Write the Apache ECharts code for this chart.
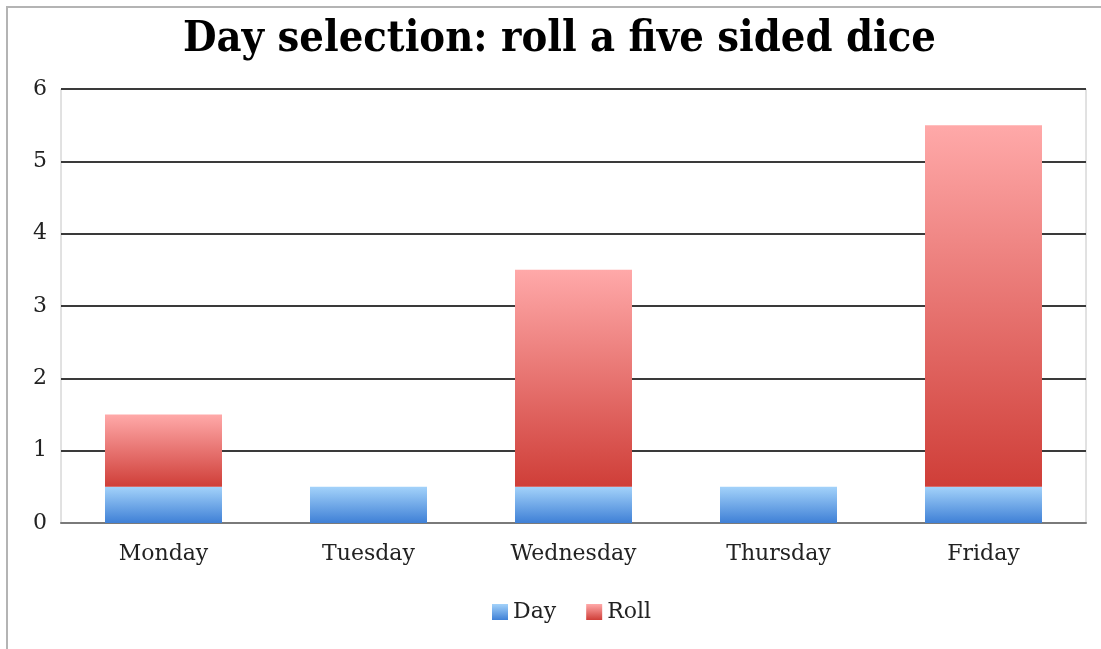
<!DOCTYPE html>
<html>
<head>
<meta charset="utf-8">
<script src="https://cdn.jsdelivr.net/npm/echarts@6/dist/echarts.min.js"></script>
<style>
html,body{margin:0;padding:0;background:#fff;}
#c{width:1101px;height:649px;}
</style>
</head>
<body>
<div id="c"></div>
<script>
const categories = ['Monday', 'Tuesday', 'Wednesday', 'Thursday', 'Friday'];
const dayValues = [0.5, 0.5, 0.5, 0.5, 0.5];
const rollValues = [1, 0, 3, 0, 5];
const yTicks = [0, 1, 2, 3, 4, 5, 6];

const chart = echarts.init(document.getElementById('c'));
const serif = '"DejaVu Serif", serif';
const blue = new echarts.graphic.LinearGradient(0, 0, 0, 1, [
  {offset: 0, color: '#a3d2fa'},
  {offset: 1, color: '#3f80d6'}
]);
const red = new echarts.graphic.LinearGradient(0, 0, 0, 1, [
  {offset: 0, color: '#ffa9a9'},
  {offset: 1, color: '#cf3e38'}
]);
chart.setOption({
  animation: false,
  title: {
    text: 'Day selection: roll a five sided dice',
    left: 178,
    top: 13,
    textStyle: {fontFamily: '"DejaVu Serif Condensed", "DejaVu Serif", serif', fontWeight: 'bold', fontSize: 43, color: '#000'}
  },
  graphic: [{
    type: 'rect',
    shape: {x: 7, y: 7, width: 1200, height: 700},
    style: {fill: null, stroke: '#b4b4b4', lineWidth: 2},
    silent: true
  }],
  legend: {
    bottom: 21,
    left: 487,
    itemWidth: 16,
    itemHeight: 16,
    itemGap: 30,
    icon: 'rect',
    textStyle: {fontFamily: serif, fontSize: 22, color: '#222'},
    data: ['Day', 'Roll']
  },
  grid: {left: 61, right: 15, top: 89, bottom: 126, show: true, borderColor: '#c4c4c4', borderWidth: 1},
  xAxis: {
    type: 'category',
    data: categories,
    axisLine: {lineStyle: {color: '#7a7a7a', width: 2}},
    axisTick: {show: false},
    axisLabel: {fontFamily: serif, fontSize: 22, color: '#222', margin: 20}
  },
  yAxis: {
    type: 'value',
    min: yTicks[0],
    max: yTicks[yTicks.length - 1],
    interval: 1,
    axisLine: {show: false},
    axisTick: {show: false},
    axisLabel: {fontFamily: serif, fontSize: 22, color: '#222', margin: 14},
    splitLine: {lineStyle: {color: '#3a3a3a', width: 2}}
  },
  series: [
    {name: 'Day', type: 'bar', stack: 's', data: dayValues, barWidth: 117, itemStyle: {color: blue}},
    {name: 'Roll', type: 'bar', stack: 's', data: rollValues, barWidth: 117, itemStyle: {color: red}}
  ]
});
</script>
</body>
</html>
